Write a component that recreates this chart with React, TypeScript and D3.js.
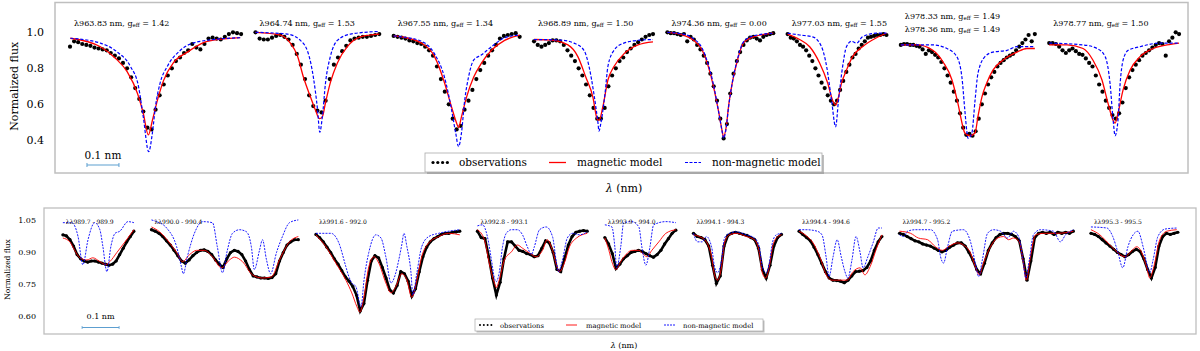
import React from 'react';
import * as d3 from 'd3';

// ---------------- TOP PANEL DATA ----------------
const topLines = ['λ963.83 nm', 'λ964.74 nm', 'λ967.55 nm', 'λ968.89 nm', 'λ974.36 nm', 'λ977.03 nm', 'λ978.33 nm', 'λ978.77 nm'];
const topGeff = ['1.42', '1.53', '1.34', '1.50', '0.00', '1.55', '1.49', '1.50'];
const extraLine = 'λ978.36 nm';
const extraGeff = '1.49';
// wavelength window around each line centre (nm)
const topRanges: [number, number][] = [[-0.245, 0.29], [-0.203, 0.184], [-0.203, 0.191], [-0.203, 0.169], [-0.175, 0.156], [-0.15, 0.159], [-0.216, 0.203], [-0.206, 0.2]];

const topMagnetic: [number, number][][] = [
  [[-0.244, .967], [-0.15, .92], [-0.103, .856], [-0.066, .78], [-0.034, .66], [-0.016, .55], [0, .43], [0.0125, .51], [0.028, .62], [0.047, .73], [0.078, .83], [0.122, .89], [0.184, .95], [0.287, .97]],
  [[-0.203, 1.0], [-0.125, .985], [-0.094, .94], [-0.072, .87], [-0.053, .75], [-0.031, .64], [-0.016, .57], [-0.003, .52], [0.006, .53], [0.016, .61], [0.031, .72], [0.053, .83], [0.084, .92], [0.125, .975], [0.184, .99]],
  [[-0.203, .98], [-0.178, .975], [-0.116, .94], [-0.075, .865], [-0.044, .72], [-0.022, .585], [-0.006, .495], [0, .47], [0.009, .53], [0.025, .64], [0.047, .75], [0.072, .83], [0.103, .90], [0.144, .955], [0.191, .985]],
  [[-0.203, .96], [-0.15, .957], [-0.097, .93], [-0.066, .865], [-0.041, .75], [-0.019, .64], [-0.006, .52], [0, .51], [0.012, .585], [0.028, .735], [0.047, .81], [0.078, .88], [0.122, .93], [0.169, .947]],
  [[-0.175, 1.0], [-0.125, .985], [-0.094, .957], [-0.066, .90], [-0.047, .81], [-0.031, .70], [-0.016, .57], [-0.003, .445], [0, .42], [0.009, .475], [0.016, .585], [0.028, .72], [0.044, .845], [0.0625, .94], [0.094, .975], [0.156, .995]],
  [[-0.15, .99], [-0.1125, .96], [-0.081, .92], [-0.05, .83], [-0.025, .72], [-0.009, .62], [0, .595], [0.006, .62], [0.019, .72], [0.034, .79], [0.053, .865], [0.084, .92], [0.128, .97], [0.159, .995]],
  [[-0.216, .93], [-0.166, .93], [-0.116, .90], [-0.084, .835], [-0.056, .735], [-0.0375, .605], [-0.022, .475], [-0.016, .44], [0, .425], [0.016, .44], [0.025, .53], [0.0375, .64], [0.053, .72], [0.072, .79], [0.103, .845], [0.147, .89], [0.178, .91], [0.203, .91]],
  [[-0.206, .93], [-0.15, .93], [-0.1, .91], [-0.069, .845], [-0.041, .735], [-0.022, .605], [-0.006, .51], [0, .495], [0.009, .55], [0.025, .68], [0.047, .79], [0.078, .865], [0.119, .91], [0.162, .93], [0.2, .94]],
];

const topNonMagnetic: [number, number][][] = [
  [[-0.244, .967], [-0.15, .94], [-0.097, .89], [-0.056, .81], [-0.031, .70], [-0.016, .53], [0.001, .337], [0.0125, .44], [0.022, .585], [0.037, .72], [0.059, .81], [0.10, .90], [0.162, .95], [0.287, .97]],
  [[-0.203, 1.0], [-0.103, .99], [-0.0625, .955], [-0.0375, .88], [-0.022, .75], [-0.009, .57], [-0.002, .445], [0.006, .53], [0.016, .72], [0.031, .865], [0.053, .955], [0.094, .99], [0.184, 1.005]],
  [[-0.203, .98], [-0.178, .975], [-0.116, .95], [-0.075, .88], [-0.044, .75], [-0.022, .57], [-0.009, .44], [0, .365], [0.009, .44], [0.019, .62], [0.031, .75], [0.047, .845], [0.072, .875], [0.103, .92], [0.144, .97], [0.191, .985]],
  [[-0.203, .96], [-0.119, .957], [-0.078, .94], [-0.047, .90], [-0.031, .81], [-0.016, .66], [-0.003, .495], [0, .45], [0.006, .495], [0.019, .66], [0.028, .81], [0.047, .90], [0.078, .94], [0.131, .957], [0.169, .96]],
  [[-0.175, 1.0], [-0.125, .99], [-0.094, .965], [-0.066, .91], [-0.047, .82], [-0.031, .71], [-0.016, .57], [-0.003, .44], [0, .41], [0.009, .47], [0.016, .58], [0.028, .72], [0.044, .85], [0.0625, .945], [0.094, .98], [0.156, .995]],
  [[-0.15, .995], [-0.1125, .985], [-0.072, .975], [-0.044, .92], [-0.028, .81], [-0.0125, .62], [0, .475], [0.009, .62], [0.022, .81], [0.034, .92], [0.05, .95], [0.066, .94], [0.084, .975], [0.128, .995], [0.159, .995]],
  [[-0.216, .93], [-0.116, .93], [-0.072, .91], [-0.041, .865], [-0.025, .75], [-0.016, .57], [-0.009, .44], [-0.006, .41], [0.006, .44], [0.016, .62], [0.025, .77], [0.047, .865], [0.072, .89], [0.116, .90], [0.147, .92], [0.203, .92]],
  [[-0.206, .94], [-0.1, .93], [-0.056, .91], [-0.031, .865], [-0.016, .72], [-0.006, .51], [0, .425], [0.009, .51], [0.016, .72], [0.025, .845], [0.041, .90], [0.078, .92], [0.141, .94], [0.2, .94]],
];

// observed flux, evenly sampled across each window
const topObserved: number[][] = [
  [.92, .95, .945, .935, .93, .925, .915, .91, .905, .90, .885, .87, .855, .83, .80, .75, .69, .63, .56, .47, .46, .57, .65, .71, .76, .80, .84, .86, .885, .90, .935, .915, .905, .935, .965, .97, .965, .96, .975, .99, 1.0, .995, .99],
  [1.0, .965, .96, .96, .97, .98, .985, .975, .96, .93, .88, .82, .74, .65, .59, .565, .555, .62, .74, .82, .86, .895, .925, .955, .965, .97, .975, .975, .98, .985, .99],
  [.98, .975, .97, .965, .955, .95, .94, .935, .92, .90, .87, .81, .74, .67, .60, .52, .46, .48, .57, .62, .68, .74, .79, .83, .87, .90, .93, .965, .98, .985, .99, .995, .975],
  [.95, .93, .92, .93, .94, .955, .955, .95, .93, .90, .87, .84, .80, .76, .71, .65, .58, .52, .52, .58, .70, .76, .80, .84, .86, .89, .91, .93, .945, .96, .975, .985, .99],
  [1.0, .995, .995, .99, .985, .99, .95, .975, .96, .93, .905, .87, .83, .77, .70, .62, .52, .41, .49, .66, .77, .84, .89, .93, .955, .97, .975, .965, .955, .975, .985, .99, .995],
  [.99, .97, .965, .95, .93, .92, .90, .87, .84, .80, .76, .72, .69, .65, .62, .60, .62, .68, .73, .78, .82, .86, .88, .91, .93, .95, .97, .975, .98, .985, .985, .99, .985],
  [.93, .935, .935, .93, .93, .925, .92, .905, .88, .90, .89, .875, .86, .835, .80, .76, .72, .67, .62, .55, .47, .43, .435, .425, .45, .52, .60, .66, .71, .75, .78, .81, .83, .845, .86, .87, .88, .90, .92, .94, .96, .985, .95, .99],
  [.94, .94, .935, .92, .90, .885, .90, .91, .895, .88, .875, .855, .83, .81, .76, .71, .67, .62, .58, .54, .52, .55, .61, .69, .75, .79, .82, .845, .87, .885, .90, .915, .93, .94, .935, .87, .95, .97, 1.0, .99],
];
const topTicks = [0.4, 0.6, 0.8, 1.0];

// ---------------- BOTTOM PANEL DATA ----------------
const botLabels = ['λλ989.7 - 989.9', 'λλ990.0 - 990.4', 'λλ991.6 - 992.0', 'λλ992.8 - 993.1', 'λλ993.9 - 994.0', 'λλ994.1 - 994.3', 'λλ994.4 - 994.6', 'λλ994.7 - 995.2', 'λλ995.3 - 995.5'];
// window widths (nm), x measured from each window start
const botWidths = [0.192, 0.397, 0.389, 0.297, 0.192, 0.238, 0.224, 0.47, 0.235];

const botMagnetic: [number, number][][] = [
  [[0, .968], [0.019, .95], [0.032, .91], [0.046, .875], [0.065, .865], [0.081, .875], [0.1, .857], [0.116, .843], [0.127, .857], [0.146, .90], [0.168, .95], [0.192, 1.007]],
  [[0, 1.02], [0.022, .997], [0.049, .945], [0.068, .90], [0.084, .857], [0.103, .89], [0.122, .91], [0.143, .91], [0.165, .88], [0.189, .828], [0.211, .865], [0.224, .878], [0.246, .857], [0.273, .795], [0.3, .78], [0.324, .785], [0.346, .865], [0.373, .95], [0.397, .975]],
  [[0, .983], [0.027, .927], [0.054, .85], [0.081, .77], [0.097, .71], [0.111, .645], [0.119, .62], [0.13, .69], [0.143, .833], [0.157, .88], [0.17, .85], [0.189, .757], [0.203, .71], [0.216, .74], [0.232, .80], [0.246, .77], [0.259, .69], [0.273, .77], [0.286, .88], [0.305, .945], [0.332, .975], [0.359, .99], [0.389, .983]],
  [[0, 1.007], [0.019, .96], [0.032, .85], [0.046, .757], [0.051, .735], [0.059, .77], [0.073, .865], [0.092, .903], [0.108, .935], [0.122, .92], [0.141, .897], [0.159, .88], [0.176, .91], [0.189, .96], [0.203, .91], [0.216, .828], [0.222, .81], [0.235, .85], [0.249, .927], [0.268, .968], [0.297, .99]],
  [[0, .968], [0.011, .91], [0.019, .857], [0.03, .82], [0.043, .857], [0.057, .89], [0.073, .91], [0.092, .91], [0.105, .89], [0.114, .88], [0.127, .91], [0.146, .95], [0.165, .99], [0.192, 1.007]],
  [[0, .983], [0.016, .975], [0.035, .95], [0.049, .88], [0.057, .795], [0.065, .77], [0.076, .833], [0.084, .945], [0.097, .983], [0.116, .99], [0.143, .975], [0.165, .96], [0.178, .90], [0.186, .805], [0.195, .78], [0.205, .833], [0.214, .927], [0.224, .968], [0.238, .983]],
  [[0, 1.0], [0.022, .975], [0.038, .945], [0.057, .875], [0.076, .787], [0.089, .77], [0.111, .77], [0.13, .77], [0.146, .81], [0.165, .828], [0.178, .795], [0.192, .833], [0.211, .927], [0.224, .983]],
  [[0, 1.0], [0.03, .99], [0.051, .968], [0.076, .96], [0.097, .927], [0.116, .91], [0.132, .927], [0.157, .945], [0.173, .935], [0.192, .897], [0.205, .833], [0.216, .795], [0.227, .85], [0.246, .927], [0.265, .968], [0.281, .975], [0.295, .96], [0.308, .968], [0.324, .95], [0.335, .85], [0.343, .77], [0.354, .88], [0.368, .983], [0.389, .99], [0.427, .99], [0.47, 1.0]],
  [[0, 1.007], [0.024, .983], [0.046, .945], [0.07, .903], [0.092, .88], [0.111, .91], [0.124, .927], [0.138, .897], [0.151, .828], [0.159, .78], [0.17, .833], [0.186, .96], [0.205, 1.0], [0.232, 1.007]],
];

const botNonMagnetic: [number, number][][] = [
  [[0, 1.04], [0.024, 1.04], [0.041, .975], [0.054, .842], [0.068, .96], [0.086, 1.04], [0.1, 1.007], [0.108, .93], [0.119, .81], [0.13, .93], [0.141, .99], [0.154, 1.0], [0.176, 1.045], [0.192, 1.04]],
  [[0, 1.053], [0.014, 1.045], [0.041, 1.015], [0.068, .927], [0.081, .833], [0.086, .80], [0.097, .88], [0.116, .99], [0.138, 1.045], [0.165, 1.04], [0.178, .927], [0.192, .805], [0.205, .91], [0.219, .99], [0.238, 1.007], [0.257, .997], [0.27, .927], [0.278, .82], [0.292, .91], [0.3, .96], [0.311, .865], [0.322, .80], [0.338, .90], [0.354, .975], [0.373, 1.04], [0.397, 1.053]],
  [[0, .99], [0.041, .99], [0.062, .945], [0.081, .833], [0.089, .787], [0.097, .757], [0.108, .74], [0.122, .645], [0.13, .77], [0.143, .90], [0.162, .983], [0.176, .968], [0.189, .88], [0.203, .757], [0.216, .805], [0.224, .865], [0.232, .935], [0.238, .99], [0.246, .927], [0.257, .805], [0.262, .70], [0.273, .805], [0.286, .927], [0.305, .975], [0.332, .99], [0.389, 1.007]],
  [[0, 1.025], [0.014, 1.03], [0.027, .975], [0.038, .865], [0.046, .78], [0.051, .763], [0.059, .805], [0.068, .927], [0.078, .99], [0.092, 1.007], [0.108, 1.007], [0.122, .983], [0.135, .927], [0.146, .89], [0.154, .927], [0.168, 1.007], [0.186, 1.02], [0.203, .975], [0.214, .85], [0.219, .81], [0.23, .865], [0.243, .968], [0.257, .99], [0.276, .983], [0.297, .997]],
  [[0, 1.03], [0.019, 1.02], [0.027, .927], [0.032, .828], [0.043, .927], [0.051, 1.04], [0.073, 1.045], [0.092, 1.02], [0.1, .927], [0.111, .84], [0.122, .927], [0.132, 1.03], [0.165, 1.045], [0.192, 1.04]],
  [[0, .99], [0.011, .95], [0.024, .95], [0.035, .975], [0.049, .927], [0.057, .833], [0.065, .805], [0.076, .865], [0.084, .968], [0.097, .99], [0.116, .997], [0.143, .983], [0.165, .968], [0.178, .927], [0.186, .833], [0.197, .805], [0.205, .85], [0.214, .95], [0.224, .983], [0.238, .99]],
  [[0, 1.007], [0.019, 1.007], [0.049, 1.0], [0.062, .983], [0.073, .88], [0.081, .787], [0.092, .88], [0.103, .96], [0.114, .88], [0.124, .81], [0.132, .78], [0.143, .865], [0.154, .975], [0.165, .90], [0.173, .828], [0.186, .88], [0.2, .945], [0.214, 1.015], [0.224, 1.015]],
  [[0, .983], [0.011, .975], [0.022, 1.0], [0.043, 1.007], [0.084, 1.007], [0.103, .96], [0.111, .88], [0.119, .85], [0.13, .927], [0.143, 1.0], [0.173, 1.007], [0.192, .95], [0.205, .85], [0.214, .787], [0.224, .865], [0.238, .99], [0.254, 1.007], [0.273, 1.0], [0.292, .968], [0.308, 1.0], [0.322, .975], [0.335, .85], [0.341, .78], [0.351, .865], [0.362, .983], [0.381, 1.007], [0.416, 1.0], [0.435, .95], [0.449, .983], [0.47, 1.007]],
  [[0, 1.02], [0.043, 1.015], [0.059, .975], [0.073, .90], [0.086, .828], [0.1, .927], [0.114, .983], [0.127, 1.0], [0.141, .927], [0.154, .828], [0.159, .805], [0.168, .865], [0.181, .975], [0.2, 1.01], [0.232, 1.015]],
];

const botObserved: number[][] = [
  [.983, .978, .96, .93, .89, .87, .86, .855, .86, .86, .855, .85, .845, .84, .845, .86, .89, .92, .95, .975, 1.0],
  [1.007, 1.0, .99, .975, .955, .935, .91, .885, .86, .85, .865, .885, .90, .91, .912, .905, .89, .865, .845, .83, .87, .90, .91, .905, .89, .86, .82, .79, .785, .78, .78, .778, .782, .80, .86, .90, .935, .95, .96, .96],
  [.985, .97, .95, .925, .90, .87, .845, .815, .785, .765, .74, .70, .625, .66, .77, .86, .885, .875, .83, .78, .725, .71, .745, .81, .80, .765, .695, .73, .81, .88, .925, .95, .965, .975, .985, .99, .99, .995, .997, 1.0],
  [1.0, .97, .965, .88, .78, .70, .76, .87, .95, .95, .93, .91, .905, .895, .89, .88, .885, .92, .955, .945, .90, .82, .81, .87, .935, .975, .995, 1.0, 1.003, 1.0],
  [.97, .94, .895, .825, .845, .87, .885, .90, .905, .91, .905, .895, .885, .878, .89, .91, .94, .965, .99, 1.005],
  [.99, .975, .97, .96, .93, .84, .755, .79, .93, .98, .99, .995, .99, .985, .98, .97, .96, .92, .82, .78, .84, .93, .97, .985],
  [1.0, .985, .97, .955, .925, .89, .85, .81, .78, .77, .768, .765, .758, .77, .79, .81, .812, .815, .83, .86, .91, .95, .975],
  [.99, .985, .975, .965, .955, .95, .94, .935, .93, .92, .91, .903, .91, .925, .935, .945, .945, .93, .90, .865, .82, .80, .85, .91, .945, .97, .985, .99, .99, .985, .975, .955, .87, .77, .86, .97, .99, .995, .99, .995, .985, .995, .99, .995, .99, 1.0],
  [.99, .985, .975, .96, .945, .93, .915, .90, .89, .88, .89, .905, .915, .905, .87, .82, .78, .83, .93, .975, .99, .985, .99, .995],
];
const botTicks = [0.60, 0.75, 0.90, 1.05];

const serif = '"DejaVu Serif", serif';
const RED = '#ff0000';
const BLUE = '#0000ff';
const BAR = '#5d9fd0';

export default function App() {
  // ---- top scales (broken axis: windows laid side by side) ----
  const topGap = 0.045;
  const topOffsets: number[] = [];
  let acc = 0;
  topRanges.forEach(r => { topOffsets.push(acc); acc += (r[1] - r[0]) + topGap; });
  const topTotal = acc - topGap;
  const xTop = d3.scaleLinear().domain([-0.047, topTotal + 0.028]).range([55, 1188]);
  const yTop = d3.scaleLinear().domain([0.218, 1.163]).range([173, 3]);
  const tx = (i: number, d: number) => xTop(topOffsets[i] + d - topRanges[i][0]);

  // ---- bottom scales ----
  const botGap = 0.0475;
  const botOffsets: number[] = [];
  let acc2 = 0;
  botWidths.forEach(w => { botOffsets.push(acc2); acc2 += w + botGap; });
  const botTotal = acc2 - botGap;
  const xBot = d3.scaleLinear().domain([-0.051, botTotal + 0.049]).range([44, 1196]);
  const yBot = d3.scaleLinear().domain([0.517, 1.109]).range([334, 208]);
  const bx = (i: number, d: number) => xBot(botOffsets[i] + d);

  const topLine = (i: number) => d3.line<[number, number]>().x(p => tx(i, p[0])).y(p => yTop(p[1])).curve(d3.curveMonotoneX);
  const botLine = (i: number) => d3.line<[number, number]>().x(p => bx(i, p[0])).y(p => yBot(p[1])).curve(d3.curveMonotoneX);

  const topObsPts = topObserved.map((vals, i) => {
    const [a, b] = topRanges[i];
    return vals.map((v, j) => [a + (j * (b - a)) / (vals.length - 1), v] as [number, number]);
  });
  const botObsPts = botObserved.map((vals, i) => {
    const w = botWidths[i];
    return vals.map((v, j) => [(j * w) / (vals.length - 1), v] as [number, number]);
  });

  const fmt1 = d3.format('.1f');
  const fmt2 = d3.format('.2f');

  const topBar0 = xTop(0.053), topBar1 = xTop(0.153);
  const botBar0 = xBot(0.052), botBar1 = xBot(0.152);

  return (
    <svg width={1200} height={351} style={{ position: 'absolute', left: 0, top: 0, background: '#fff' }} fontFamily={serif}>
      <rect x={0} y={0} width={1200} height={351} fill="#fff" />
      {/* ================= TOP PANEL ================= */}
      <rect x={55} y={2.5} width={1133} height={170.5} fill="none" stroke="#bfbfbf" strokeWidth={1.5} />
      {topTicks.map(t => (
        <text key={t} x={44} y={yTop(t)} dy="0.35em" textAnchor="end" fontSize={11}>{fmt1(t)}</text>
      ))}
      <text transform={`translate(14,${yTop(0.7)}) rotate(-90)`} textAnchor="middle" dy="0.35em" fontSize={11}>Normalized flux</text>
      {topObsPts.map((pts, i) => (
        <g key={'to' + i}>
          {pts.map((p, j) => <circle key={j} cx={tx(i, p[0])} cy={yTop(p[1])} r={2.1} fill="#000" />)}
        </g>
      ))}
      {topMagnetic.map((pts, i) => (
        <path key={'tm' + i} d={topLine(i)(pts) || ''} fill="none" stroke={RED} strokeWidth={1.3} />
      ))}
      {topNonMagnetic.map((pts, i) => (
        <path key={'tn' + i} d={topLine(i)(pts) || ''} fill="none" stroke={BLUE} strokeWidth={1.2} strokeDasharray="3.2,1.8" />
      ))}
      {topLines.map((name, i) => {
        const x0 = tx(i, topRanges[i][0]) + 4;
        const two = i === 6;
        const rows = two ? [[name, topGeff[i], 18.5], [extraLine, extraGeff, 31.5]] : [[name, topGeff[i], 25.5]];
        return rows.map((r, k) => (
          <text key={'tl' + i + '_' + k} x={x0} y={r[2] as number} fontSize={8}>
            {r[0] as string}, g<tspan fontSize={5.5} dy={1.5}>eff</tspan><tspan dy={-1.5}> = {r[1] as string}</tspan>
          </text>
        ));
      })}
      {/* scale bar */}
      <text x={(topBar0 + topBar1) / 2} y={159} textAnchor="middle" fontSize={10.5}>0.1 nm</text>
      <line x1={topBar0} x2={topBar1} y1={165} y2={165} stroke={BAR} strokeWidth={1.2} />
      <line x1={topBar0} x2={topBar0} y1={163} y2={167} stroke={BAR} strokeWidth={1} />
      <line x1={topBar1} x2={topBar1} y1={163} y2={167} stroke={BAR} strokeWidth={1} />
      {/* legend */}
      <rect x={427} y={155} width={397} height={19} fill="#888" opacity={0.55} />
      <rect x={425} y={153} width={397} height={19} fill="#fff" stroke="#aaa" strokeWidth={0.8} />
      {[0, 1, 2, 3].map(k => <circle key={k} cx={433 + k * 4.8} cy={162.5} r={1.6} fill="#000" />)}
      <text x={459} y={166} fontSize={10.5}>observations</text>
      <line x1={549} x2={566} y1={162.5} y2={162.5} stroke={RED} strokeWidth={1.3} />
      <text x={577} y={166} fontSize={10.5}>magnetic model</text>
      <line x1={685} x2={701} y1={162.5} y2={162.5} stroke={BLUE} strokeWidth={1.2} strokeDasharray="3,1.5" />
      <text x={712} y={166} fontSize={10.5}>non-magnetic model</text>
      <text x={624} y={192} textAnchor="middle" fontSize={11}><tspan fontStyle="italic">λ</tspan> (nm)</text>

      {/* ================= BOTTOM PANEL ================= */}
      <rect x={44} y={208} width={1152} height={126} fill="none" stroke="#bfbfbf" strokeWidth={1.3} />
      {botTicks.map(t => (
        <text key={t} x={36} y={yBot(t)} dy="0.35em" textAnchor="end" fontSize={8}>{fmt2(t)}</text>
      ))}
      <text transform={`translate(7,${yBot(0.82)}) rotate(-90)`} textAnchor="middle" dy="0.35em" fontSize={7.5}>Normalized flux</text>
      {botObsPts.map((pts, i) => (
        <g key={'bo' + i}>
          <path d={d3.line<[number, number]>().x(p => bx(i, p[0])).y(p => yBot(p[1]))(pts) || ''} fill="none" stroke="#000" strokeWidth={2.6} />
          {pts.map((p, j) => <circle key={j} cx={bx(i, p[0])} cy={yBot(p[1])} r={1.6} fill="#000" />)}
        </g>
      ))}
      {botMagnetic.map((pts, i) => (
        <path key={'bm' + i} d={botLine(i)(pts) || ''} fill="none" stroke={RED} strokeWidth={0.9} />
      ))}
      {botNonMagnetic.map((pts, i) => (
        <path key={'bn' + i} d={botLine(i)(pts) || ''} fill="none" stroke={BLUE} strokeWidth={0.9} strokeDasharray="2,1.2" />
      ))}
      {botLabels.map((l, i) => (
        <text key={'bl' + i} x={bx(i, 0) + 3} y={224} fontSize={6}>{l}</text>
      ))}
      <text x={(botBar0 + botBar1) / 2} y={319} textAnchor="middle" fontSize={8}>0.1 nm</text>
      <line x1={botBar0} x2={botBar1} y1={327.5} y2={327.5} stroke={BAR} strokeWidth={1} />
      <line x1={botBar0} x2={botBar0} y1={326} y2={329} stroke={BAR} strokeWidth={0.8} />
      <line x1={botBar1} x2={botBar1} y1={326} y2={329} stroke={BAR} strokeWidth={0.8} />
      <rect x={476.5} y={320.5} width={288} height={12} fill="#888" opacity={0.55} />
      <rect x={475} y={319} width={288} height={12} fill="#fff" stroke="#aaa" strokeWidth={0.7} />
      {[0, 1, 2, 3].map(k => <circle key={k} cx={480 + k * 3.8} cy={325} r={1} fill="#000" />)}
      <text x={500} y={327.5} fontSize={6.8}>observations</text>
      <line x1={566} x2={577} y1={325} y2={325} stroke={RED} strokeWidth={0.9} />
      <text x={586} y={327.5} fontSize={6.8}>magnetic model</text>
      <line x1={664} x2={675} y1={325} y2={325} stroke={BLUE} strokeWidth={0.9} strokeDasharray="2,1" />
      <text x={683} y={327.5} fontSize={6.8}>non-magnetic model</text>
      <text x={624} y={347.5} textAnchor="middle" fontSize={8}><tspan fontStyle="italic">λ</tspan> (nm)</text>
    </svg>
  );
}
